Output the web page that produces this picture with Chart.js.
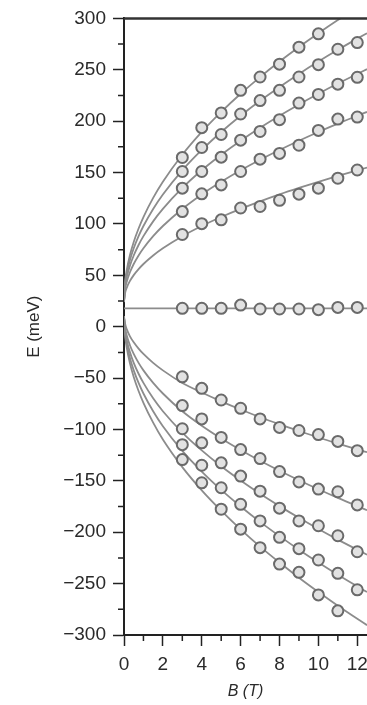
<!DOCTYPE html>
<html>
<head>
<meta charset="utf-8">
<script src="https://cdn.jsdelivr.net/npm/chart.js@4.4.0/dist/chart.umd.min.js"></script>
<style>
  html, body { margin: 0; padding: 0; background: #fff; overflow: hidden; }
  #wrap { width: 367px; height: 705px; position: relative; }
</style>
</head>
<body>
<div id="wrap"><canvas id="myChart"></canvas></div>
<script>
// measured Landau level energies (meV) against field B (T)
var bPts = [3, 4, 5, 6, 7, 8, 9, 10, 11, 12];
var up1 = [164.7, 193.7, 208, 230, 243, 255.5, 272, 285];
var up2 = [151, 174.4, 187, 207, 220, 230, 243, 255, 270, 276.5];
var up3 = [134.8, 151, 165, 181.5, 190, 201.5, 217.6, 226, 236, 242.7];
var up4 = [112, 129.3, 138, 151, 163, 168.6, 176.6, 191, 202, 204];
var up5 = [89.7, 100.3, 104, 115.5, 117, 123, 129, 134.8, 144.5, 152.5];
var zero = [17.9, 17.9, 17.9, 21, 17.2, 17.2, 17.2, 16.6, 18.8, 18.8];
var dn1 = [-48.8, -60, -71.3, -79.4, -89.7, -98, -101, -105, -111.6, -120.6];
var dn2 = [-76.8, -89.7, -107.7, -119.6, -128.3, -141, -151, -158, -160.6, -173.4];
var dn3 = [-99.3, -113, -132.5, -145.4, -160, -176.6, -189, -193.7, -203.4, -219];
var dn4 = [-114.8, -134.8, -156.7, -172.8, -189, -205, -216, -227, -240, -256];
var dn5 = [-129.3, -151.9, -177.6, -197, -215, -231, -239, -261, -276.5];

// fitted curves
var bFit = [0, 0.05, 0.15, 0.3, 0.5, 0.75, 1, 1.5, 2, 3, 4, 5, 6, 7, 8, 9, 10, 11, 12, 12.5];
var fitUp1 = [24, 42.5, 56.0, 69.3, 82.5, 95.6, 106.7, 125.3, 141.0, 167.3, 189.5, 209.0, 226.7, 242.9, 258.0, 272.2, 285.6, 298.4, 310.6, 316.5];
var fitUp2 = [24, 40.5, 52.7, 64.5, 76.3, 88.1, 98, 114.6, 128.7, 152.2, 172, 189.5, 205.3, 219.8, 233.3, 246, 258, 269.4, 280.3, 285.6];
var fitUp3 = [24, 38.3, 48.8, 59.1, 69.3, 79.5, 88.1, 102.5, 114.6, 135.0, 152.2, 167.3, 181.0, 193.6, 205.3, 216.3, 226.7, 236.6, 246.0, 250.6];
var fitUp4 = [24, 35.7, 44.3, 52.7, 61.0, 69.3, 76.3, 88.1, 98.0, 114.6, 128.7, 141.0, 152.2, 162.5, 172.0, 181.0, 189.5, 197.6, 205.3, 209.0];
var fitUp5 = [24, 32.3, 38.3, 44.3, 50.2, 56.0, 61.0, 69.3, 76.3, 88.1, 98.0, 106.7, 114.6, 121.9, 128.7, 135.0, 141.0, 146.7, 152.2, 154.8];
var fitZeroB = [0, 12.5];
var fitZero = [17.9, 17.9];
var fitDn1 = [10, 3.4, -2.9, -9.1, -15.2, -21.3, -26.5, -35.2, -42.5, -54.7, -64.0, -72.6, -80.6, -88.1, -95.0, -101.5, -107.8, -113.7, -119.4, -122.1];
var fitDn2 = [10, -0.2, -9.1, -17.8, -26.5, -35.2, -42.5, -54.7, -65.0, -82.3, -96.4, -108.8, -120.0, -130.5, -140.2, -149.4, -158.2, -166.6, -174.6, -178.5];
var fitDn3 = [10, -2.9, -13.8, -24.5, -35.2, -45.8, -54.7, -69.7, -82.3, -103.0, -120.4, -135.8, -149.7, -162.6, -174.6, -186.0, -196.9, -207.2, -217.0, -221.8];
var fitDn4 = [10, -5.2, -17.8, -30.2, -42.5, -54.7, -65.0, -82.3, -96.9, -120.9, -141.0, -158.8, -174.9, -189.9, -203.8, -217.0, -229.5, -241.4, -252.7, -258.2];
var fitDn5 = [10, -7.3, -21.3, -35.2, -48.9, -62.6, -74.1, -93.4, -109.8, -136.6, -159.2, -179.0, -197.2, -214.0, -229.5, -244.3, -258.2, -271.5, -284.2, -290.4];

var yMinor = [-275, -225, -175, -125, -75, -25, 25, 75, 125, 175, 225, 275];
var xMinor = [1, 3, 5, 7, 9, 11];

function pts(xs, ys) {
  return ys.map(function (v, i) { return { x: xs[i], y: v }; });
}

var datasets = [];
[up1, up2, up3, up4, up5, zero, dn1, dn2, dn3, dn4, dn5].forEach(function (s) {
  datasets.push({
    data: pts(bPts, s),
    showLine: false,
    pointRadius: 5.5,
    pointBorderWidth: 2,
    pointBorderColor: '#6a6a6a',
    pointBackgroundColor: '#e2e2e2',
    order: 0
  });
});
[fitUp1, fitUp2, fitUp3, fitUp4, fitUp5, fitDn1, fitDn2, fitDn3, fitDn4, fitDn5].forEach(function (s) {
  datasets.push({
    data: pts(bFit, s),
    showLine: true,
    pointRadius: 0,
    borderColor: '#8c8c8c',
    borderWidth: 1.8,
    cubicInterpolationMode: 'monotone',
    order: 1
  });
});
datasets.push({
  data: pts(fitZeroB, fitZero),
  showLine: true,
  pointRadius: 0,
  borderColor: '#8c8c8c',
  borderWidth: 1.8,
  order: 1
});

var extraTicks = {
  id: 'extraTicks',
  afterDraw: function (chart) {
    var ctx = chart.ctx, a = chart.chartArea;
    var xs = chart.scales.x, ys = chart.scales.y;
    ctx.save();
    ctx.strokeStyle = '#222';
    ctx.lineWidth = 1.5;
    ctx.beginPath();
    yMinor.forEach(function (v) {
      var py = ys.getPixelForValue(v);
      ctx.moveTo(a.left - 6, py); ctx.lineTo(a.left, py);
    });
    xMinor.forEach(function (v) {
      var px = xs.getPixelForValue(v);
      ctx.moveTo(px, a.bottom); ctx.lineTo(px, a.bottom + 6);
    });
    ctx.stroke();
    ctx.strokeStyle = '#333';
    ctx.lineWidth = 2.5;
    ctx.beginPath();
    ctx.moveTo(a.left, a.top); ctx.lineTo(a.right, a.top);
    ctx.stroke();
    ctx.restore();
  }
};

var tickFont = { family: "'Liberation Sans', Arial", size: 19 };

new Chart("myChart", {
  type: "scatter",
  data: { datasets: datasets },
  options: {
    responsive: true,
    maintainAspectRatio: false,
    animation: false,
    layout: { autoPadding: false, padding: { top: 14, right: 0, left: 0, bottom: 0 } },
    plugins: { legend: { display: false }, tooltip: { enabled: false } },
    scales: {
      x: {
        type: 'linear',
        min: 0,
        max: 12.5,
        afterFit: function (s) { s.height = 70; s.paddingRight = 0; },
        ticks: { stepSize: 2, includeBounds: false, padding: 7, color: '#2a2a2a', font: tickFont },
        grid: { drawOnChartArea: false, drawTicks: true, tickLength: 11, tickColor: '#222', tickWidth: 1.5 },
        border: { display: true, color: '#222', width: 2 },
        title: {
          display: true,
          text: 'B (T)',
          color: '#2a2a2a',
          font: { family: "'Liberation Sans', Arial", size: 16, style: 'italic' },
          padding: { top: 0, bottom: 4 }
        }
      },
      y: {
        type: 'linear',
        min: -300,
        max: 300,
        afterFit: function (s) { s.width = 124; },
        ticks: {
          stepSize: 50,
          padding: 7,
          color: '#2a2a2a',
          font: tickFont,
          callback: function (v) { return v < 0 ? '\u2212' + Math.abs(v) : v; }
        },
        grid: { drawOnChartArea: false, drawTicks: true, tickLength: 11, tickColor: '#222', tickWidth: 1.5 },
        border: { display: true, color: '#222', width: 2 },
        title: {
          display: true,
          text: 'E (meV)',
          color: '#2a2a2a',
          font: { family: "'Liberation Sans', Arial", size: 17 },
          padding: { top: 24, bottom: 0 }
        }
      }
    }
  },
  plugins: [extraTicks]
});
</script>
</body>
</html>
